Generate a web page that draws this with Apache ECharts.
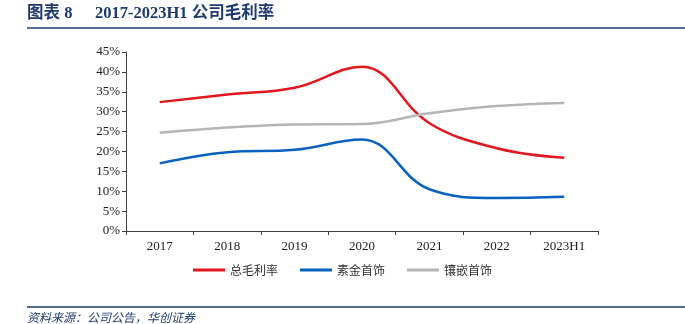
<!DOCTYPE html>
<html><head><meta charset="utf-8">
<script src="https://cdn.jsdelivr.net/npm/echarts@6/dist/echarts.min.js"></script>
<style>html,body{margin:0;padding:0;background:#fff}#c{width:685px;height:324px}</style>
</head><body><div id="c"></div>
<script>
var categories = ['2017','2018','2019','2020','2021','2022','2023H1'];
var totalMargin = [32.4, 34.3, 36.0, 41.3, 27.1, 20.8, 18.4];
var plainGold = [17.0, 19.8, 20.4, 23.0, 10.5, 8.3, 8.6];
var inlaid = [24.7, 26.0, 26.8, 26.9, 29.6, 31.4, 32.2];
var seriesNames = ['总毛利率','素金首饰','镶嵌首饰'];
var yTicks = [0,5,10,15,20,25,30,35,40,45];

var navy = '#1F3A6E';
var chart = echarts.init(document.getElementById('c'));
var serifLatin = '"Liberation Serif","Times New Roman",serif';
var cjk = '"Noto Sans CJK SC","Liberation Serif",serif';
chart.setOption({
  animation:false,
  grid:{left:126,right:87,top:52,bottom:93},
  legend:{
    bottom:43, left:'center', itemWidth:32, itemHeight:3, itemGap:22,
    icon:'rect',
    textStyle:{fontFamily:cjk,fontSize:12,color:'#333'},
    data:seriesNames
  },
  xAxis:{
    type:'category', data:categories, boundaryGap:true,
    axisLine:{lineStyle:{color:'#404040',width:1}},
    axisTick:{show:true,length:4,lineStyle:{color:'#404040'}},
    axisLabel:{fontFamily:serifLatin,fontSize:13,color:'#222',margin:9}
  },
  yAxis:{
    type:'value', min:yTicks[0], max:yTicks[yTicks.length-1], interval:5,
    splitLine:{show:false},
    axisLine:{show:true,lineStyle:{color:'#404040',width:1}},
    axisTick:{show:true,length:4,lineStyle:{color:'#404040'}},
    axisLabel:{fontFamily:serifLatin,fontSize:13,color:'#222',margin:6,formatter:'{value}%'}
  },
  series:[
    {name:seriesNames[0],type:'line',data:totalMargin,smooth:0.4,symbol:'none',
     lineStyle:{color:'#E3161E',width:2.5},itemStyle:{color:'#E3161E'}},
    {name:seriesNames[1],type:'line',data:plainGold,smooth:0.4,symbol:'none',
     lineStyle:{color:'#0A62BE',width:2.5},itemStyle:{color:'#0A62BE'}},
    {name:seriesNames[2],type:'line',data:inlaid,smooth:0.4,symbol:'none',
     lineStyle:{color:'#B5B5B5',width:2.5},itemStyle:{color:'#B5B5B5'}}
  ],
  graphic:[
    {type:'text',left:27,top:5,style:{text:'图表 8',
      font:'bold 16.5px "Liberation Serif","Noto Sans CJK SC",serif',fill:navy}},
    {type:'text',left:95,top:5,style:{text:'2017-2023H1 公司毛利率',
      font:'bold 16.5px "Liberation Serif","Noto Sans CJK SC",serif',fill:navy}},
    {type:'line',shape:{x1:27,y1:28,x2:685,y2:28},style:{stroke:navy,lineWidth:1.5}},
    {type:'line',shape:{x1:27,y1:307,x2:685,y2:307},style:{stroke:navy,lineWidth:1.5}},
    {type:'text',left:27,top:311,style:{text:'资料来源：公司公告，华创证券',
      font:'italic 12px "Noto Sans CJK SC",serif',fill:navy}}
  ]
});
</script></body></html>
